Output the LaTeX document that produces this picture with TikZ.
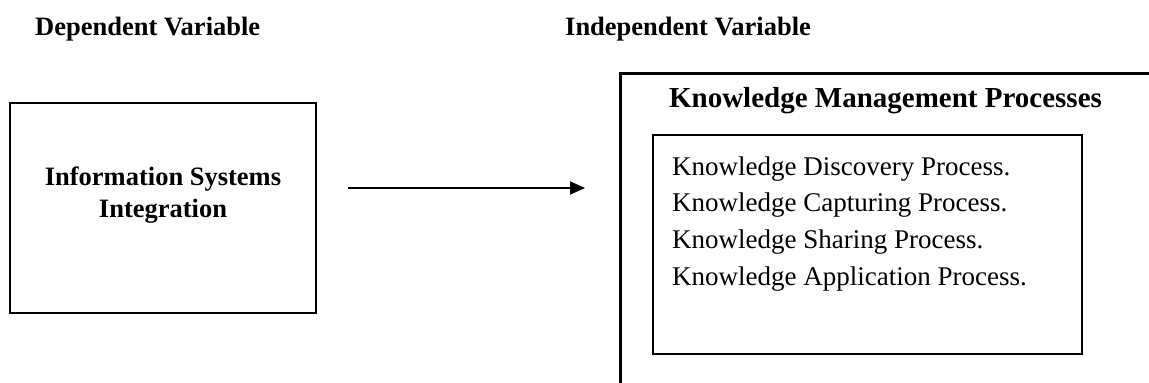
\documentclass[tikz,border=0pt]{standalone}
\usepackage{fontspec}
\setmainfont{Liberation Serif}
\usetikzlibrary{arrows.meta}
\begin{document}
\begin{tikzpicture}[x=1pt,y=-1pt,
  heading/.style={inner sep=0pt, font=\fontsize{26.5}{32}\selectfont\bfseries},
  boxtext/.style={inner sep=0pt, font=\fontsize{26.5}{32}\selectfont\bfseries},
  titletext/.style={inner sep=0pt, font=\fontsize{29}{34}\selectfont\bfseries},
  itemtext/.style={inner sep=0pt, anchor=base west, font=\fontsize{27}{32}\selectfont},
  framebox/.style={draw=black, line width=2.4pt, inner sep=0pt},
  connector/.style={draw=black, line width=2pt, -{Triangle[length=15pt,width=13pt]}}
]
\useasboundingbox (0,0) rectangle (1149,383);
\fill[white] (0,0) rectangle (1149,383);

% headings
\node[heading, anchor=base west] (dep) at (35,35) {Dependent Variable};
\node[heading, anchor=base west] (indep) at (565,35) {Independent Variable};

% left box
\node[framebox, minimum width=306pt, minimum height=210pt] (lbox) at (163,208) {};
\node[boxtext, anchor=base] (lt1) at (163,185) {Information Systems};
\node[boxtext, anchor=base] (lt2) at (163,217) {Integration};

% outer box (cropped by picture edge)
\begin{scope}
  \clip (0,0) rectangle (1149,383);
  \node[draw=black, line width=3pt, inner sep=0pt, minimum width=580pt, minimum height=347pt] (outer) at (910,246.5) {};
\end{scope}
\node[titletext, anchor=base] (title) at (885.5,107) {Knowledge Management Processes};

% inner box
\node[draw=black, line width=2pt, inner sep=0pt, minimum width=429pt, minimum height=219pt] (ibox) at (867.5,244.5) {};
\node[itemtext] (i1) at (672,175) {Knowledge Discovery Process.};
\node[itemtext] (i2) at (672,211.7) {Knowledge Capturing Process.};
\node[itemtext] (i3) at (672,248.3) {Knowledge Sharing Process.};
\node[itemtext] (i4) at (672,285) {Knowledge Application Process.};

% arrow
\coordinate (arrS) at (348,188);
\coordinate (arrE) at (585,188);
\draw[connector] (arrS) -- (arrE);
\end{tikzpicture}
\end{document}
